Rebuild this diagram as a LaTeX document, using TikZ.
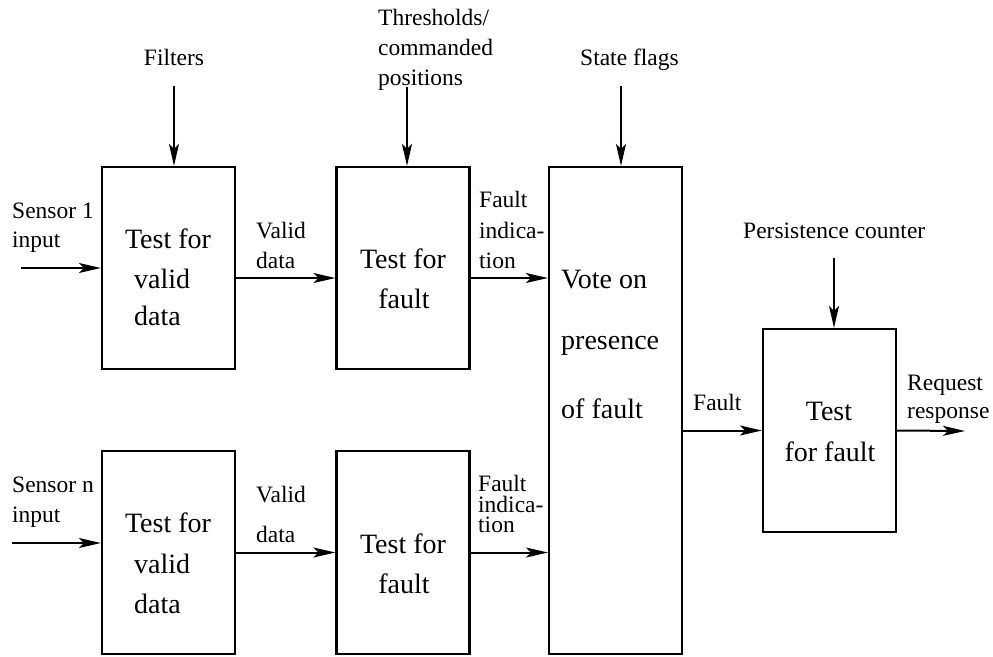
\documentclass[tikz,border=0pt]{standalone}
\usepackage{fontspec}
\setmainfont{Liberation Serif}
\usetikzlibrary{arrows.meta}
\begin{document}
\begin{tikzpicture}[x=1pt,y=-1pt,
  block/.style={draw,line width=2.2pt,inner sep=0pt,minimum width=133pt},
  lab/.style={font=\fontsize{23.5}{28}\selectfont,inner sep=0pt,anchor=base west},
  labc/.style={lab,anchor=base},
  btxt/.style={font=\fontsize{28}{32}\selectfont,inner sep=0pt,anchor=base west},
  btxtc/.style={btxt,anchor=base},
  flow/.style={line width=2pt,-{Stealth[length=22pt,width=10pt,inset=5pt]}}]
\useasboundingbox (0,0) rectangle (993,656);

% processing blocks
\node[block,minimum height=202pt] (va1) at (168.5,268) {};
\node[block,minimum height=202pt] (tf1) at (403,268) {};
\node[block,minimum height=203pt] (van) at (168.5,552.5) {};
\node[block,minimum height=203pt] (tfn) at (403,552.5) {};
\node[block,minimum height=487pt] (vote) at (615.5,410.5) {};
\node[block,minimum height=203pt] (pers) at (829.5,430.5) {};

% text inside the blocks
\node[btxtc] (va1a) at (168,248) {Test for};
\node[btxt]  (va1b) at (134,288) {valid};
\node[btxt]  (va1c) at (134,325) {data};
\node[btxtc] (tf1a) at (403,268) {Test for};
\node[btxtc] (tf1b) at (404,308) {fault};
\node[btxtc] (vana) at (168,532) {Test for};
\node[btxt]  (vanb) at (134,573) {valid};
\node[btxt]  (vanc) at (134,613) {data};
\node[btxtc] (tfna) at (403,553) {Test for};
\node[btxtc] (tfnb) at (404,593) {fault};
\node[btxt]  (vta) at (561,288) {Vote on};
\node[btxt]  (vtb) at (561,349) {presence};
\node[btxt]  (vtc) at (561,418) {of fault};
\node[btxtc] (psa) at (829,420) {Test};
\node[btxtc] (psb) at (830,461) {for fault};

% labels
\node[labc] (filt) at (174,65) {Filters};
\node[lab] (thr1) at (378,25) {Thresholds/};
\node[lab] (thr2) at (378,55) {commanded};
\node[lab] (thr3) at (378,85) {positions};
\node[lab] (stf) at (580,65) {State flags};
\node[lab] (pcn) at (743,238) {Persistence counter};
\node[lab] (s1a) at (12,218) {Sensor 1};
\node[lab] (s1b) at (12,247) {input};
\node[lab] (vd1a) at (256,238) {Valid};
\node[lab] (vd1b) at (256,268) {data};
\node[lab] (fi1a) at (479,207) {Fault};
\node[lab] (fi1b) at (479,238) {indica-};
\node[lab] (fi1c) at (479,268) {tion};
\node[lab] (sna) at (12,492) {Sensor n};
\node[lab] (snb) at (12,522) {input};
\node[lab] (vdna) at (256,502) {Valid};
\node[lab] (vdnb) at (256,542) {data};
\node[lab] (fina) at (478,491) {Fault};
\node[lab] (finb) at (478,512) {indica-};
\node[lab] (finc) at (478,532) {tion};
\node[lab] (flt) at (693,410) {Fault};
\node[lab] (rqa) at (907,390) {Request};
\node[lab] (rqb) at (907,418) {response};

% free ends of the input and output lines
\coordinate (filtS) at (174,86);
\coordinate (thrS) at (407,87);
\coordinate (stfS) at (621,86);
\coordinate (pcnS) at (834,258);
\coordinate (s1S) at (21,268);
\coordinate (snS) at (12,543);
\coordinate (outE) at (965,431);

% connectors
\draw[flow] (filtS) -- (filtS |- va1.north);
\draw[flow] (thrS) -- (thrS |- tf1.north);
\draw[flow] (stfS) -- (stfS |- vote.north);
\draw[flow] (pcnS) -- (pcnS |- pers.north);
\draw[flow] (s1S) -- (s1S -| va1.west);
\draw[flow] ([yshift=-10pt]va1.east) -- ([yshift=-10pt]tf1.west);
\draw[flow] ([yshift=-10pt]tf1.east) -- ([yshift=-10pt]tf1.east -| vote.west);
\draw[flow] (snS) -- (snS -| van.west);
\draw[flow] (van.east) -- (tfn.west);
\draw[flow] (tfn.east) -- (tfn.east -| vote.west);
\draw[flow] (pers.west -| vote.east) -- (pers.west);
\draw[flow] (pers.east) -- (outE);
\end{tikzpicture}
\end{document}
